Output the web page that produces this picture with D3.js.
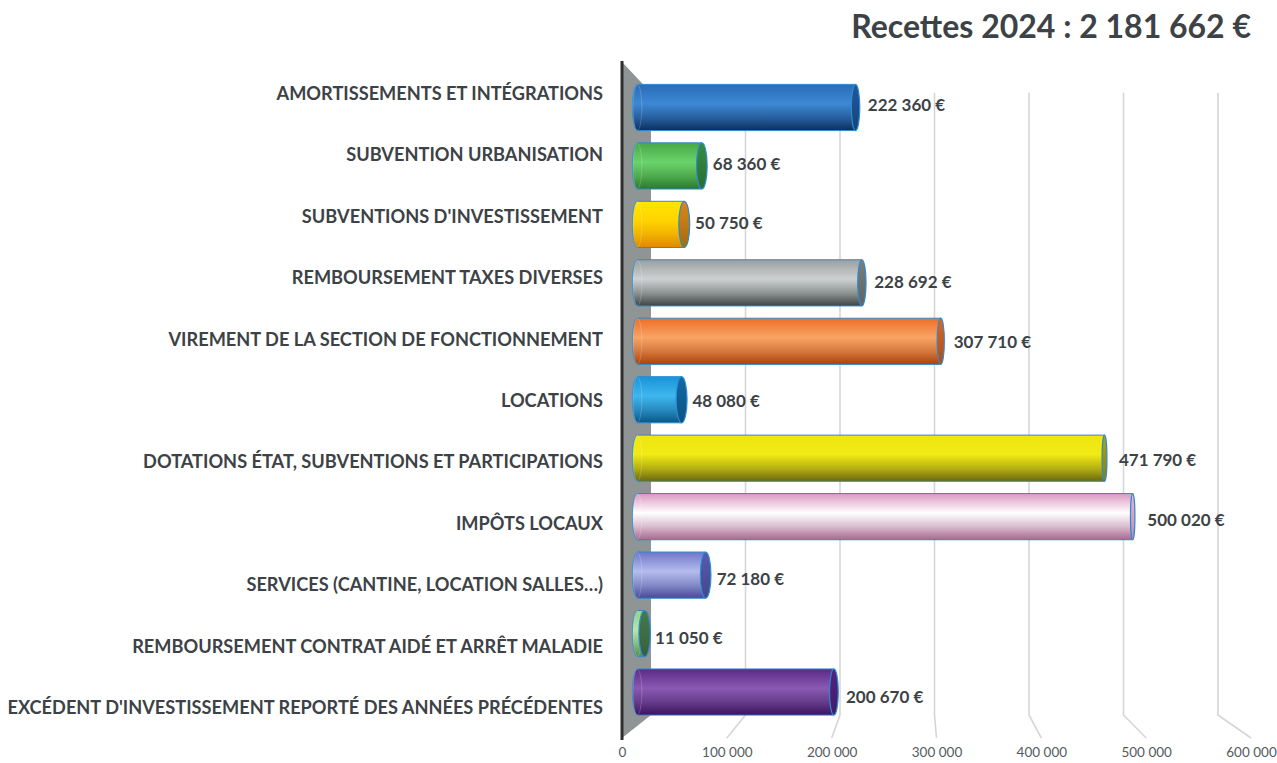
<!DOCTYPE html>
<html><head><meta charset="utf-8">
<script src="https://cdn.jsdelivr.net/npm/d3@7"></script>
<style>body{margin:0;background:#fff}svg{display:block}</style>
</head><body>
<svg id="c" width="1277" height="763"></svg>
<script>
// ---- data ----
const categories = [
  "AMORTISSEMENTS ET INTÉGRATIONS",
  "SUBVENTION URBANISATION",
  "SUBVENTIONS D'INVESTISSEMENT",
  "REMBOURSEMENT TAXES DIVERSES",
  "VIREMENT DE LA SECTION DE FONCTIONNEMENT",
  "LOCATIONS",
  "DOTATIONS ÉTAT, SUBVENTIONS ET PARTICIPATIONS",
  "IMPÔTS LOCAUX",
  "SERVICES (CANTINE, LOCATION SALLES…)",
  "REMBOURSEMENT CONTRAT AIDÉ ET ARRÊT MALADIE",
  "EXCÉDENT D'INVESTISSEMENT REPORTÉ DES ANNÉES PRÉCÉDENTES"
];
const values = [222360, 68360, 50750, 228692, 307710, 48080, 471790, 500020, 72180, 11050, 200670];
const tickValues = [0, 100000, 200000, 300000, 400000, 500000, 600000];
const titleText = "Recettes 2024 : 2 181 662 €";

// ---- styles ----
const barTop    = ["#2a6cb8","#46a846","#ffe400","#9a9e9e","#ec6e28","#1894d8","#eee610","#dc98c2","#7076c8","#8cd08c","#5a2a86"];
const barMid    = ["#3d88d4","#6bd36b","#ffd400","#cdd1d1","#f9a465","#3fb6ee","#f2ea14","#ffffff","#b4bcee","#b8e6a8","#8a5ab2"];
const barBottom = ["#0b2f5e","#2a7a2a","#e08800","#3e4444","#a9420c","#0a5688","#6a6810","#a86890","#464a98","#4e8e4e","#3a145e"];
const barEnd    = ["#1c4f8c","#2f7f3a","#c27a12","#6c7272","#c85a1c","#0e5f94","#9a9410","#d9a2c5","#4d52a0","#3f6e45","#4a1f74"];

const svg = d3.select("#c");
const defs = svg.append("defs");
const fr = d3.formatLocale({decimal: ",", thousands: " ", grouping: [3], currency: ["", " €"]});
const fmt = fr.format(",d");
const FONT = "Lato, 'Open Sans', sans-serif";

// scales (front plane, back plane, bar depth, label depth)
const xFront = d3.scaleLinear().domain([0, 600000]).range([622, 1251]);
const xBack  = d3.scaleLinear().domain([0, 600000]).range([651, 1218]);
const xBar   = d3.scaleLinear().domain([0, 600000]).range([639.4, 1234]);
const xLab   = d3.scaleLinear().domain([0, 600000]).range([644, 1248]);
const yFront = d3.scaleBand().domain(categories).range([62, 738]);
const yBar   = d3.scaleBand().domain(categories).range([78.25, 721.25]).paddingInner(0.21).paddingOuter(0.105);
const yLab   = d3.scaleBand().domain(categories).range([74.5, 726.5]);
const backTop = 92.7, backBot = 715, frontBot = 738;

// gridlines
svg.append("g").selectAll("path").data(tickValues.filter(d => d > 0)).join("path")
  .attr("d", d => `M${xBack(d)},${backTop}L${xBack(d)},${backBot}L${xFront(d)},${frontBot}`)
  .attr("fill", "none").attr("stroke", "#d3d7d7").attr("stroke-width", 1.6);

// wall
svg.append("path")
  .attr("d", `M${xFront(0)},62L${xBack(0)},${backTop}L${xBack(0)},${backBot}L${xFront(0)},${frontBot}Z`)
  .attr("fill", "#8f9494");
svg.append("line").attr("x1", xFront(0)).attr("x2", xFront(0)).attr("y1", 61).attr("y2", 740)
  .attr("stroke", "#2e3030").attr("stroke-width", 3);

// gradients
categories.forEach((c, i) => {
  const g = defs.append("linearGradient").attr("id", "g" + i).attr("x1", 0).attr("y1", 0).attr("x2", 0).attr("y2", 1);
  const stops = [[0, barTop[i]], [0.42, barMid[i]], [0.72, d3.interpolateRgb(barMid[i], barBottom[i])(0.45)], [1, barBottom[i]]];
  stops.forEach(s => g.append("stop").attr("offset", s[0]).attr("stop-color", s[1]));
  const e = defs.append("linearGradient").attr("id", "e" + i).attr("x1", 0).attr("y1", 0).attr("x2", 0).attr("y2", 1);
  e.append("stop").attr("offset", 0).attr("stop-color", d3.color(barEnd[i]).brighter(0.3));
  e.append("stop").attr("offset", 1).attr("stop-color", d3.color(barEnd[i]).darker(0.4));
});

// bars (cylinders)
const bars = svg.append("g").selectAll("g").data(categories).join("g");
bars.each(function(c, i) {
  const v = values[i];
  const g = d3.select(this);
  const y0 = yBar(c), h = yBar.bandwidth(), ry = h / 2, cy = y0 + ry;
  const rxL = 5, rxE = Math.max(2, 5.8 - v / 140000);
  const x0 = xBar(0) - 2;
  const x1 = xBar(v) - rxE;
  g.append("path")
    .attr("d", `M${x1},${y0}L${x0},${y0}A${rxL},${ry} 0 0 0 ${x0},${y0 + h}L${x1},${y0 + h}Z`)
    .attr("fill", `url(#g${i})`).attr("stroke", "#2f8ad0").attr("stroke-width", 1);
  g.append("ellipse").attr("cx", x0).attr("cy", cy).attr("rx", rxL - 0.5).attr("ry", ry - 0.5)
    .attr("fill", "none").attr("stroke", "#ffffff").attr("stroke-opacity", 0.18).attr("stroke-width", 1);
  g.append("ellipse").attr("cx", x1).attr("cy", cy).attr("rx", rxE).attr("ry", ry)
    .attr("fill", `url(#e${i})`).attr("stroke", "#2f8ad0").attr("stroke-width", 1.2);
});

// value labels
svg.append("g").selectAll("text").data(categories).join("text")
  .attr("x", (c, i) => xLab(values[i]))
  .attr("y", c => yLab(c) + yLab.bandwidth() / 2)
  .attr("dominant-baseline", "central")
  .attr("font-family", FONT).attr("font-weight", 700).attr("font-size", 17)
  .attr("fill", "#3c4246")
  .text((c, i) => fmt(values[i]) + " €");

// category labels
svg.append("g").selectAll("text").data(categories).join("text")
  .attr("x", 603)
  .attr("y", c => yFront(c) + yFront.bandwidth() / 2)
  .attr("text-anchor", "end").attr("dominant-baseline", "central")
  .attr("font-family", FONT).attr("font-weight", 700).attr("font-size", 18.2)
  .attr("fill", "#3c4246")
  .text(c => c);

// x axis (front plane)
const ax = svg.append("g").attr("transform", `translate(0,${frontBot + 5})`)
  .call(d3.axisBottom(xFront).tickValues(tickValues).tickSize(0).tickPadding(4).tickFormat(d => fmt(d)));
ax.select(".domain").remove();
ax.selectAll("text").attr("font-family", FONT).attr("font-size", 13.5).attr("fill", "#555a5e");

// title
svg.append("text").attr("x", 1251).attr("y", 38).attr("text-anchor", "end")
  .attr("font-family", FONT).attr("font-weight", 700).attr("font-size", 32)
  .attr("fill", "#3c4246").text(titleText);
</script>
</body></html>
